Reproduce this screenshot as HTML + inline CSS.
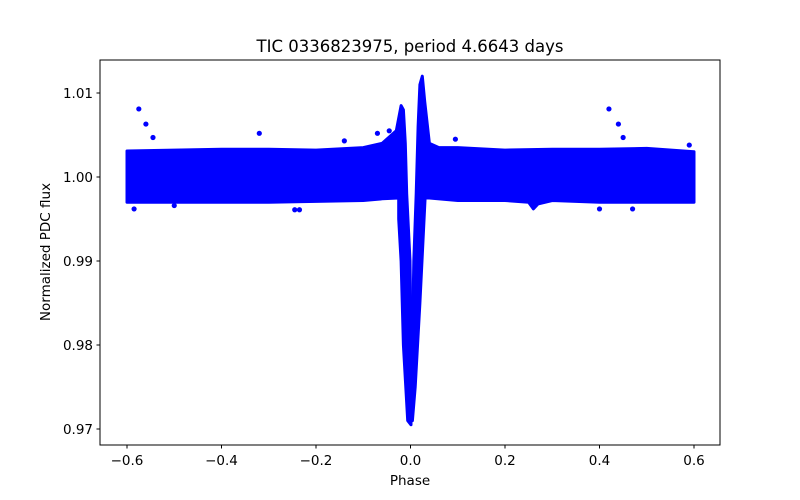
<!DOCTYPE html>
<html><head><meta charset="utf-8"><style>
body{margin:0;background:#fff}
svg{display:block;font-family:"DejaVu Sans","Liberation Sans",sans-serif}
</style></head><body>
<svg id="chart" width="800" height="500">
<text x="410" y="52" text-anchor="middle" font-size="16.5">TIC 0336823975, period 4.6643 days</text>
<g id="plot"></g>
<rect x="100" y="60" width="620" height="385" fill="none" stroke="#000" stroke-width="1"/>
<g id="xt"></g>
<g id="yt"></g>
<text x="410" y="485" text-anchor="middle" font-size="13.5">Phase</text>
<text transform="translate(50,252) rotate(-90)" text-anchor="middle" font-size="13.5">Normalized PDC flux</text>
</svg>
<script>
const xTicks=[-0.6,-0.4,-0.2,0.0,0.2,0.4,0.6];
const xTickLabels=["\u22120.6","\u22120.4","\u22120.2","0.0","0.2","0.4","0.6"];
const yTicks=[0.97,0.98,0.99,1.00,1.01];
const yTickLabels=["0.97","0.98","0.99","1.00","1.01"];
// left segment envelope (phase, flux)
const leftPhase=[-0.6,-0.5,-0.4,-0.3,-0.2,-0.1,-0.06,-0.03,-0.02,-0.015,-0.011,-0.008,-0.001,0.002,0.001,-0.006,-0.015,-0.02,-0.025,-0.025,-0.06,-0.1,-0.2,-0.3,-0.4,-0.5,-0.6];
const leftFlux=[1.0031,1.0032,1.0033,1.0033,1.0032,1.0035,1.0040,1.0055,1.0085,1.0080,1.0040,0.9980,0.9900,0.9780,0.9705,0.9710,0.9800,0.9900,0.9950,0.9975,0.9974,0.9972,0.9971,0.9970,0.9970,0.9970,0.9970];
// right segment envelope
const rightPhase=[0.001,0.004,0.007,0.012,0.016,0.02,0.025,0.03,0.04,0.06,0.1,0.2,0.3,0.4,0.5,0.6,0.6,0.5,0.4,0.3,0.27,0.26,0.25,0.2,0.1,0.04,0.031,0.02,0.01,0.004];
const rightFlux=[0.9720,0.9800,0.9900,0.9980,1.0060,1.0110,1.0120,1.0090,1.0040,1.0035,1.0035,1.0032,1.0033,1.0033,1.0034,1.0030,0.9970,0.9970,0.9970,0.9972,0.9968,0.9962,0.9970,0.9972,0.9972,0.9975,0.9975,0.9850,0.9750,0.9710];
const outPhase=[-0.575,-0.56,-0.545,-0.585,-0.32,-0.245,-0.235,-0.07,-0.045,-0.14,0.42,0.44,0.45,0.4,0.095,0.47,0.59,-0.5];
const outFlux=[1.0081,1.0063,1.0047,0.9962,1.0052,0.9961,0.9961,1.0052,1.0055,1.0043,1.0081,1.0063,1.0047,0.9962,1.0045,0.9962,1.0038,0.9966];
const X=p=>410.5+p*472.5;
const Y=f=>177-(f-1.0)*8400;
const NS='http://www.w3.org/2000/svg';
const plot=document.getElementById('plot');
function poly(ph,fl,name){
  const e=document.createElementNS(NS,'polygon');
  e.setAttribute('points',ph.map((p,i)=>X(p).toFixed(1)+','+Y(fl[i]).toFixed(1)).join(' '));
  e.setAttribute('fill','#0000ff');e.setAttribute('stroke','#0000ff');
  e.setAttribute('stroke-width','3');e.setAttribute('stroke-linejoin','round');
  
  
  plot.appendChild(e);
}
poly(leftPhase,leftFlux,'flux-band-left');
poly(rightPhase,rightFlux,'flux-band-right');
outPhase.forEach((p,i)=>{
  const c=document.createElementNS(NS,'circle');
  c.setAttribute('cx',X(p));c.setAttribute('cy',Y(outFlux[i]));c.setAttribute('r','2.6');c.setAttribute('fill','#0000ff');
  
  
  plot.appendChild(c);
});
const xt=document.getElementById('xt'),yt=document.getElementById('yt');
xTicks.forEach((t,i)=>{
  const l=document.createElementNS(NS,'line');
  l.setAttribute('x1',X(t));l.setAttribute('x2',X(t));l.setAttribute('y1',445);l.setAttribute('y2',448.5);l.setAttribute('stroke','#000');
  
  
  xt.appendChild(l);
  const s=document.createElementNS(NS,'text');
  s.setAttribute('x',X(t));s.setAttribute('y',465);s.setAttribute('text-anchor','middle');s.setAttribute('font-size','13.5');
  s.textContent=xTickLabels[i];
  
  
  xt.appendChild(s);
});
yTicks.forEach((t,i)=>{
  const l=document.createElementNS(NS,'line');
  l.setAttribute('x1',96.5);l.setAttribute('x2',100);l.setAttribute('y1',Y(t));l.setAttribute('y2',Y(t));l.setAttribute('stroke','#000');
  
  
  yt.appendChild(l);
  const s=document.createElementNS(NS,'text');
  s.setAttribute('x',93);s.setAttribute('y',Y(t)+5);s.setAttribute('text-anchor','end');s.setAttribute('font-size','13.5');
  s.textContent=yTickLabels[i];
  
  
  yt.appendChild(s);
});
</script>
</body></html>
